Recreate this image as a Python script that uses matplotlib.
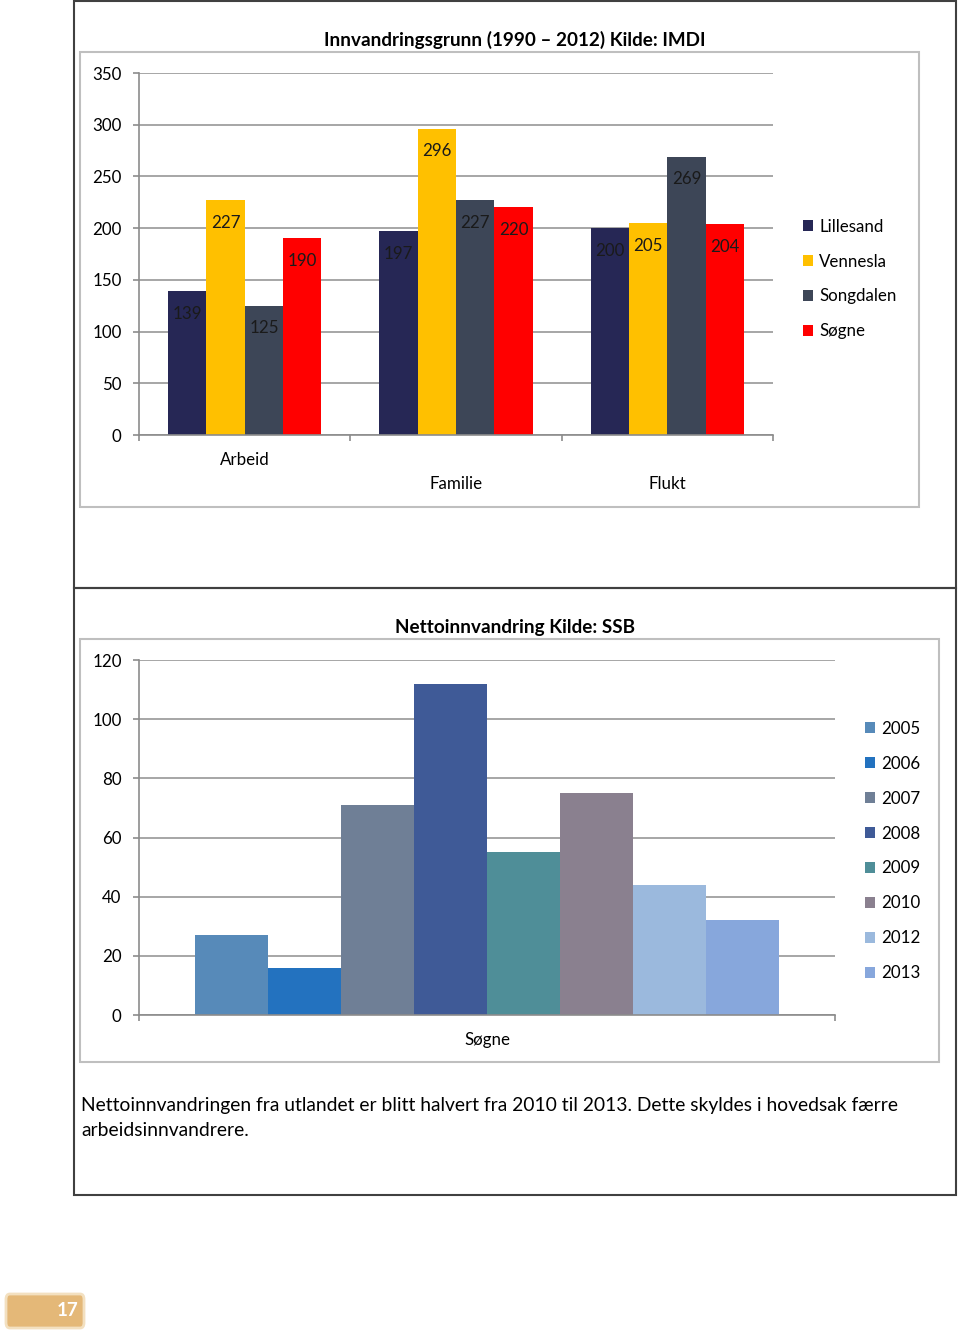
import matplotlib.pyplot as plt
from matplotlib.patches import Rectangle, FancyBboxPatch

plt.rcParams['font.family'] = ['Lato', 'DejaVu Sans']

W, H = 960, 1334

# chart 1 data
grunn = ['Arbeid', 'Familie', 'Flukt']
kommuner = ['Lillesand', 'Vennesla', 'Songdalen', 'Søgne']
lillesand = [139, 197, 200]
vennesla = [227, 296, 205]
songdalen = [125, 227, 269]
sogne = [190, 220, 204]
farger1 = ['#262755', '#FFC000', '#3D4657', '#FF0000']

# chart 2 data
aar = ['2005', '2006', '2007', '2008', '2009', '2010', '2012', '2013']
netto = [27, 16, 71, 112, 55, 75, 44, 32]
farger2 = ['#578AB9', '#2372BF', '#6F7F96', '#3F5A97', '#4F8E98', '#8A808F', '#9BB9DD', '#87A7DC']

fig = plt.figure(figsize=(W / 100, H / 100), dpi=100)


def fx(x):
    return x / W


def fy(y):
    return 1 - y / H


def box(x0, y0, x1, y1, color, lw):
    fig.patches.append(Rectangle((fx(x0), fy(y1)), fx(x1 - x0), (y1 - y0) / H,
                                 transform=fig.transFigure, fill=False,
                                 edgecolor=color, linewidth=lw))


def add_ax(x0, y0, x1, y1):
    return fig.add_axes([fx(x0), fy(y1), fx(x1 - x0), (y1 - y0) / H])


def style(ax):
    for s in ['top', 'right']:
        ax.spines[s].set_visible(False)
    ax.spines['left'].set_color('#8C8C8C')
    ax.spines['bottom'].set_color('#8C8C8C')
    ax.spines['left'].set_linewidth(1.2)
    ax.spines['bottom'].set_linewidth(1.2)
    ax.yaxis.grid(True, color='#A6A6A6', linewidth=1.4)
    ax.set_axisbelow(True)
    ax.tick_params(axis='both', colors='#8C8C8C', length=4, width=1.2, direction='out')
    ax.tick_params(axis='y', labelcolor='black', labelsize=12.2, pad=8.5)
    ax.tick_params(axis='x', labelbottom=False)


# outer page boxes
box(74, 1, 956, 588, '#404040', 1.5)
box(74, 588, 956, 1195, '#404040', 1.5)
box(80, 52, 919, 507, '#BFBFBF', 1.5)
box(80, 639, 939, 1062, '#BFBFBF', 1.5)

# ---- chart 1
ax1 = add_ax(139, 73, 773, 435)
style(ax1)
serier = [lillesand, vennesla, songdalen, sogne]
bw = 38.3 / 211
for i, vals in enumerate(serier):
    xs = [k + (i - 1.5) * bw for k in range(len(grunn))]
    ax1.bar(xs, vals, width=bw, color=farger1[i], label=kommuner[i])
    for x, v in zip(xs, vals):
        ax1.annotate(str(v), (x, v), xytext=(0, -16.3), textcoords='offset points',
                     ha='center', va='center', fontsize=12.2, color='#1A1A1A')
ax1.set_ylim(0, 350)
ax1.set_yticks(range(0, 351, 50))
ax1.set_xlim(-0.5, 2.5)
ax1.set_xticks([-0.5, 0.5, 1.5, 2.5])
for k, navn in enumerate(grunn):
    yy = -25 / 362 if k == 0 else -49 / 362
    ax1.text(k, yy, navn, transform=ax1.get_xaxis_transform(), ha='center',
             va='center', fontsize=12.2)
fig.text(fx(515), fy(40), 'Innvandringsgrunn (1990 – 2012) Kilde: IMDI',
         ha='center', va='center', fontsize=13.6, fontweight='bold')
ax1.legend(loc='center left', bbox_to_anchor=(fx(803), fy(279)),
           bbox_transform=fig.transFigure, frameon=False, fontsize=12.2,
           handlelength=0.6, handleheight=0.6, handletextpad=0.35,
           labelspacing=1.12, borderpad=0, borderaxespad=0)

# ---- chart 2
ax2 = add_ax(139, 660, 835, 1015)
style(ax2)
bw2 = 73.1 / 696
for i, (a, v) in enumerate(zip(aar, netto)):
    ax2.bar((i - 3.5) * bw2, v, width=bw2, color=farger2[i], label=a)
ax2.set_ylim(0, 120)
ax2.set_yticks(range(0, 121, 20))
ax2.set_xlim(-0.5, 0.5)
ax2.set_xticks([-0.5, 0.5])
ax2.text(0, -25 / 355, 'Søgne', transform=ax2.get_xaxis_transform(), ha='center',
         va='center', fontsize=12.2)
fig.text(fx(515), fy(627), 'Nettoinnvandring Kilde: SSB',
         ha='center', va='center', fontsize=13.6, fontweight='bold')
ax2.legend(loc='center left', bbox_to_anchor=(fx(865), fy(851)),
           bbox_transform=fig.transFigure, frameon=False, fontsize=12.2,
           handlelength=0.6, handleheight=0.6, handletextpad=0.35,
           labelspacing=1.12, borderpad=0, borderaxespad=0)

# paragraph
fig.text(fx(81), fy(1105), 'Nettoinnvandringen fra utlandet er blitt halvert fra 2010 til 2013. '
         'Dette skyldes i hovedsak færre', ha='left', va='center', fontsize=13.85)
fig.text(fx(81), fy(1131), 'arbeidsinnvandrere.', ha='left', va='center', fontsize=13.85)

# page number
fig.patches.append(FancyBboxPatch((fx(6), fy(1328)), fx(78), 34 / H,
                                  boxstyle='round,pad=0,rounding_size=0.004',
                                  transform=fig.transFigure, facecolor='#E4B878',
                                  edgecolor='#F3E0C0', linewidth=2))
fig.text(fx(78), fy(1311), '17', ha='right', va='center', fontsize=13.5,
         fontweight='bold', color='white')

fig.savefig('out.png', dpi=100)
